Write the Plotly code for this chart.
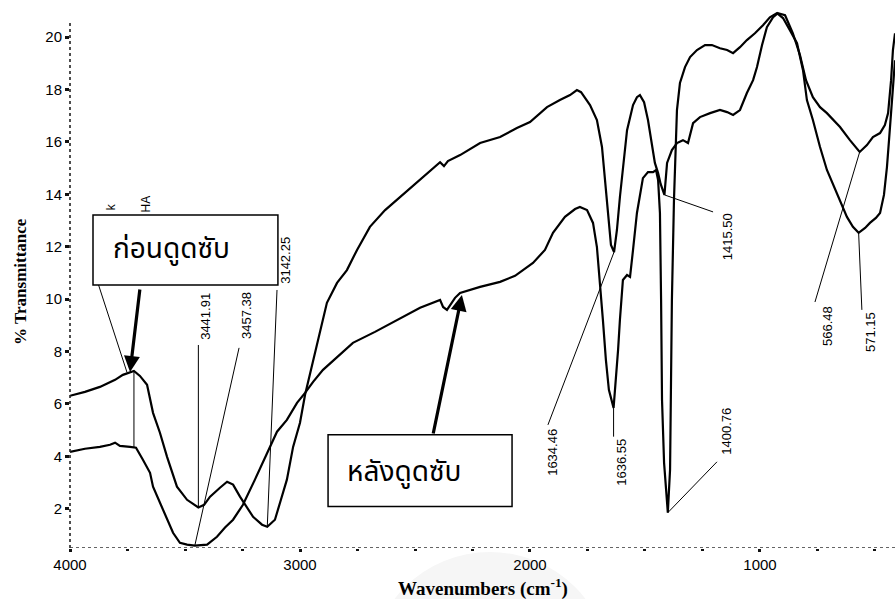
import plotly.graph_objects as go

# FTIR spectra: before adsorption (ก่อนดูดซับ) and after adsorption (หลังดูดซับ)
wn_before = [4000, 3935, 3870, 3804, 3770, 3739, 3722, 3696, 3665, 3639, 3609, 3578, 3535, 3491,
             3441.91, 3417, 3391, 3348, 3317, 3291, 3261, 3204, 3165, 3142.25, 3109, 3083, 3057,
             3030, 3000, 2978, 2943, 2913, 2883, 2839, 2796, 2752, 2696, 2630, 2565, 2478, 2391,
             2374, 2357, 2304, 2217, 2130, 2057, 2000, 1926, 1870, 1826, 1796, 1778, 1739, 1709,
             1687, 1674, 1661, 1648, 1634.46, 1622, 1609, 1591, 1578, 1552, 1535, 1522, 1504, 1487,
             1470, 1457, 1443, 1432, 1415.50, 1404, 1383, 1361, 1335, 1313, 1291, 1261, 1217, 1174,
             1143, 1117, 1087, 1057, 1030, 1013, 991, 970, 943, 922, 891, 857, 826, 800, 770, 739,
             709, 683, 652, 609, 566.48, 535, 509, 478, 457, 443, 430, 422, 413]
t_before = [6.31, 6.46, 6.65, 6.92, 7.11, 7.22, 7.26, 7.07, 6.73, 5.66, 4.90, 3.98, 2.84, 2.34,
            2.05, 2.15, 2.46, 2.80, 3.03, 2.92, 2.46, 1.69, 1.39, 1.31, 1.58, 2.34, 3.11,
            4.36, 5.28, 6.35, 7.68, 8.71, 9.86, 10.62, 11.11, 11.88, 12.76, 13.40, 13.90, 14.55, 15.23,
            15.08, 15.27, 15.50, 15.96, 16.19, 16.53, 16.76, 17.33, 17.60, 17.79, 17.98, 17.90, 17.41, 16.84,
            15.81, 14.55, 13.02, 12.07, 11.80, 12.64, 13.90, 15.31, 16.45, 17.41, 17.71, 17.79, 17.52, 16.84,
            15.96, 15.20, 14.81, 14.40, 13.98, 15.20, 15.69, 15.96, 16.07, 15.96, 16.72, 16.95, 17.10, 17.22,
            17.14, 17.03, 17.22, 17.87, 18.36, 18.86, 19.70, 20.38, 20.76, 20.92, 20.84, 20.15, 19.31, 18.36, 17.71, 17.33,
            17.10, 16.84, 16.57, 16.07, 15.62, 15.88, 16.19, 16.34, 16.65, 17.10, 18.36, 19.51, 20.15]

wn_after = [4000, 3935, 3870, 3826, 3804, 3783, 3739, 3713, 3683, 3652, 3639, 3609, 3578, 3552,
            3522, 3491, 3457.38, 3404, 3361, 3326, 3291, 3248, 3196, 3143, 3100, 3057, 3013, 2978,
            2943, 2900, 2835, 2770, 2674, 2578, 2478, 2391, 2378, 2361, 2326, 2304, 2217, 2130, 2065,
            1987, 1935, 1900, 1848, 1804, 1783, 1752, 1726, 1709, 1696, 1683, 1670, 1657, 1636.55,
            1630, 1617, 1609, 1596, 1578, 1565, 1552, 1535, 1509, 1487, 1465, 1452, 1443, 1435, 1430,
            1426, 1417, 1400.76, 1391, 1387, 1383, 1374, 1361, 1348, 1326, 1304, 1274, 1239, 1209,
            1174, 1143, 1117, 1087, 1057, 1022, 987, 957, 926, 900, 870, 839, 813, 796, 770, 739, 709,
            665, 622, 596, 571.15, 543, 522, 496, 478, 461, 448, 439, 430, 422, 413]
t_after = [4.17, 4.29, 4.36, 4.44, 4.52, 4.40, 4.36, 4.33, 3.87, 3.37, 2.84, 2.23, 1.58, 1.08,
           0.70, 0.63, 0.59, 0.63, 0.93, 1.28, 1.58, 2.15, 3.11, 4.14, 4.94, 5.39, 6.04, 6.42,
           6.84, 7.30, 7.80, 8.33, 8.75, 9.21, 9.67, 9.97, 9.70, 9.59, 10.05, 10.24, 10.47, 10.66, 10.89,
           11.38, 11.88, 12.53, 13.14, 13.44, 13.52, 13.40, 12.91, 11.99, 10.73, 9.21, 7.68, 6.54, 5.85,
           6.54, 8.06, 9.21, 10.73, 10.92, 10.85, 11.88, 13.29, 14.62, 14.85, 14.85, 14.93, 14.55, 13.29, 9.97,
           6.16, 3.75, 1.85, 3.49, 6.16, 9.97, 13.78, 17.22, 18.25, 18.86, 19.24, 19.51, 19.70, 19.70,
           19.58, 19.51, 19.39, 19.62, 19.89, 20.15, 20.46, 20.76, 20.92, 20.73, 20.27, 19.77, 18.74, 17.60, 16.84, 15.81, 14.93,
           14.05, 13.14, 12.76, 12.53, 12.72, 12.91, 13.10, 13.29, 13.98, 15.04, 16.07, 17.22, 18.25, 19.12]

assert len(wn_before) == len(t_before), (len(wn_before), len(t_before))
assert len(wn_after) == len(t_after), (len(wn_after), len(t_after))

# Peak labels: text, peak position (wavenumber, %T), leader end, label centre
peak_text = ["3441.91", "3457.38", "3142.25", "1634.46", "1636.55", "1415.50", "1400.76", "566.48", "571.15"]
peak_wn = [3441.91, 3457.38, 3142.25, 1634.46, 1636.55, 1415.50, 1400.76, 566.48, 571.15]
peak_t = [2.05, 0.59, 1.31, 11.80, 5.85, 13.98, 1.85, 15.62, 12.53]
lead_wn = [3441.91, 3265, 3100, 1922, 1636.55, 1204, 1187, 761, 557]
lead_t = [8.25, 8.14, 10.35, 5.20, 4.75, 13.33, 3.79, 9.89, 9.59]
lab_wn = [3409, 3230, 3061, 1900, 1600, 1143, 1143, 704, 517]
lab_t = [9.36, 9.36, 11.50, 4.17, 3.79, 12.37, 4.94, 8.98, 8.75]

x_ticks = [4000, 3000, 2000, 1000]
x_minor = [3750, 3500, 3250, 2750, 2500, 2250, 1750, 1500, 1250, 750, 500]
y_ticks = [2, 4, 6, 8, 10, 12, 14, 16, 18, 20]

fig = go.Figure()

fig.add_trace(go.Scatter(x=wn_before, y=t_before, mode="lines",
                         line=dict(color="black", width=2.2), name="ก่อนดูดซับ", hoverinfo="x+y"))
fig.add_trace(go.Scatter(x=wn_after, y=t_after, mode="lines",
                         line=dict(color="black", width=2.2), name="หลังดูดซับ", hoverinfo="x+y"))

shapes = []
# faint grey patch under the axis title
shapes.append(dict(type="circle", xref="paper", yref="paper",
                   x0=(370 - 70) / 825, x1=(610 - 70) / 825,
                   y0=(548 - 790) / 537, y1=(548 - 552) / 537,
                   line=dict(width=0), fillcolor="#f6f6f6", layer="below"))
# dotted axis lines
shapes.append(dict(type="line", xref="paper", yref="y", x0=0, x1=0, y0=0.5, y1=20.65,
                   line=dict(color="#222", width=1.6, dash="dot"), layer="above"))
shapes.append(dict(type="line", xref="paper", yref="y", x0=0, x1=1, y0=0.5, y1=0.5,
                   line=dict(color="#333", width=1.3, dash="dot"), layer="above"))

# leader lines from peaks to their labels
for pw, pt, lw, lt in zip(peak_wn, peak_t, lead_wn, lead_t):
    shapes.append(dict(type="line", xref="x", yref="y", x0=pw, y0=pt, x1=lw, y1=lt,
                       line=dict(color="black", width=1), layer="above"))
# leaders near 3740 cm-1
shapes.append(dict(type="line", xref="x", yref="y", x0=3722, y0=7.24, x1=3722, y1=4.34,
                   line=dict(color="black", width=1), layer="above"))
shapes.append(dict(type="line", xref="x", yref="y", x0=3752, y0=7.2, x1=3878, y1=10.6,
                   line=dict(color="black", width=1), layer="above"))

# label boxes
shapes.append(dict(type="rect", xref="x", yref="y", x0=3900, x1=3096, y0=10.54, y1=13.21,
                   line=dict(color="black", width=1.5), fillcolor="white", layer="above"))
shapes.append(dict(type="rect", xref="x", yref="y", x0=2878, x1=2078, y0=2.08, y1=4.82,
                   line=dict(color="black", width=1.5), fillcolor="white", layer="above"))

annotations = []
for txt, lw, lt in zip(peak_text, lab_wn, lab_t):
    annotations.append(dict(x=lw, y=lt, xref="x", yref="y", text=txt, showarrow=False,
                            textangle=-90, font=dict(family="Liberation Sans, Arial", size=13, color="black")))

annotations.append(dict(x=3821, y=13.3, xref="x", yref="y", text="k", showarrow=False, textangle=-90,
                        yanchor="bottom", font=dict(family="Liberation Sans, Arial", size=12, color="black")))
annotations.append(dict(x=3670, y=13.25, xref="x", yref="y", text="HA", showarrow=False, textangle=-90,
                        yanchor="bottom", font=dict(family="Liberation Sans, Arial", size=12, color="black")))

thai_font = "Noto Sans Thai, Loma, Garuda, Tlwg Typo, Noto Sans, sans-serif"
annotations.append(dict(x=3557, y=11.88, xref="x", yref="y", text="ก่อนดูดซับ", showarrow=False,
                        font=dict(family=thai_font, size=28, color="black")))
annotations.append(dict(x=2548, y=3.37, xref="x", yref="y", text="หลังดูดซับ", showarrow=False,
                        font=dict(family=thai_font, size=28, color="black")))

# arrows from the boxes to the curves
annotations.append(dict(x=3739, y=7.22, xref="x", yref="y", ax=10, ay=-84, text="", showarrow=True,
                        arrowhead=2, arrowsize=1, arrowwidth=3.2, arrowcolor="black"))
annotations.append(dict(x=2296, y=10.16, xref="x", yref="y", ax=-29, ay=140, text="", showarrow=True,
                        arrowhead=2, arrowsize=1, arrowwidth=3.2, arrowcolor="black"))

# axis titles
annotations.append(dict(x=0.5, y=(548 - 587) / 537, xref="paper", yref="paper",
                        xanchor="center", yanchor="middle",
                        text="<b>Wavenumbers (cm<sup>-1</sup>)</b>", showarrow=False,
                        font=dict(family="Liberation Serif, Times New Roman", size=19, color="black")))
annotations.append(dict(x=(20 - 70) / 825, y=(548 - 282) / 537, xref="paper", yref="paper",
                        xanchor="center", yanchor="middle",
                        text="<b>% Transmittance</b>", showarrow=False, textangle=-90,
                        font=dict(family="Liberation Serif, Times New Roman", size=17, color="black")))

fig.update_layout(
    width=895, height=599,
    margin=dict(l=70, r=0, t=11, b=51),
    paper_bgcolor="white", plot_bgcolor="white",
    showlegend=False,
    shapes=shapes, annotations=annotations,
    font=dict(family="Liberation Sans, Arial", size=15, color="black"),
    xaxis=dict(range=[4000, 413], showgrid=False, zeroline=False, showline=False,
               tickmode="array", tickvals=x_ticks, ticks="outside", ticklen=3, tickwidth=3,
               tickcolor="#111", tickfont=dict(size=15),
               minor=dict(tickmode="array", tickvals=x_minor, ticks="outside", ticklen=2,
                          tickwidth=3, tickcolor="#111")),
    yaxis=dict(range=[0.5, 21.0], showgrid=False, zeroline=False, showline=False,
               tickmode="array", tickvals=y_ticks, ticks="outside", ticklen=4, tickwidth=3,
               tickcolor="#111", tickfont=dict(size=15)),
)

fig.write_html("out.html")
